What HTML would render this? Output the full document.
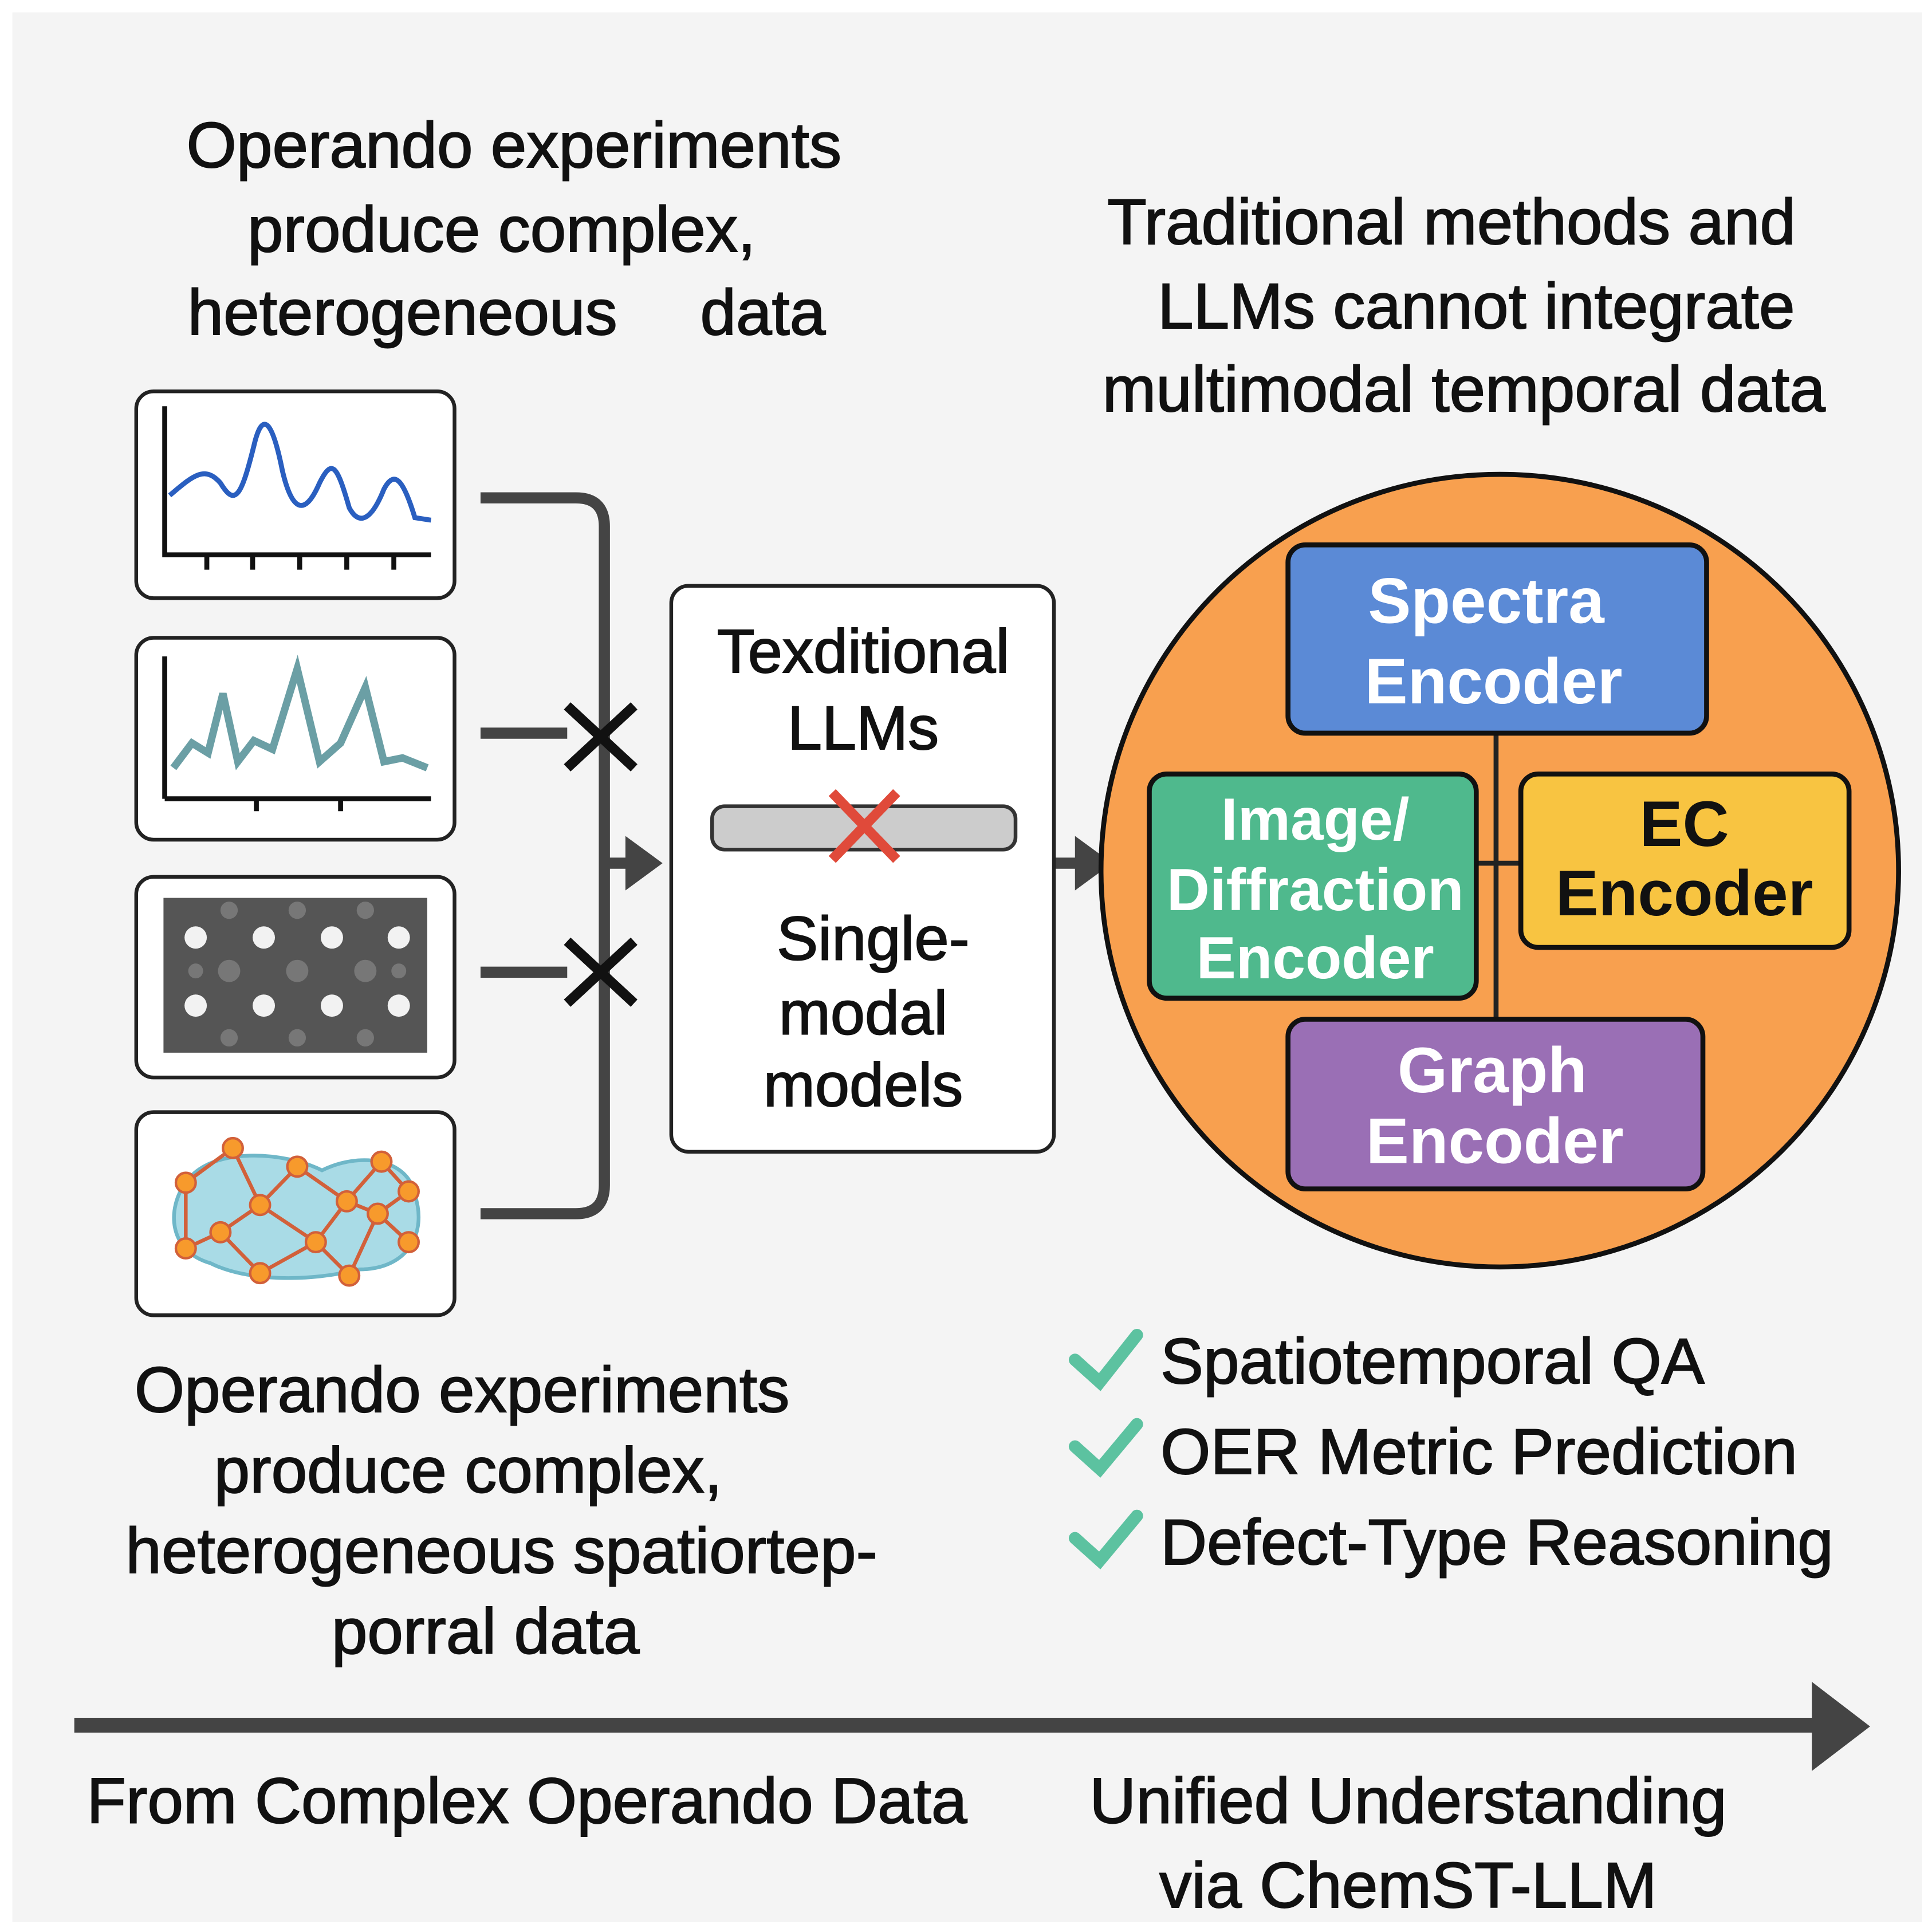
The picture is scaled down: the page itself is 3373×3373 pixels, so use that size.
<!DOCTYPE html>
<html><head><meta charset="utf-8"><style>
html,body{margin:0;padding:0;background:#fff}
svg{display:block}
text{font-family:"Liberation Sans",sans-serif}
.m{stroke:#111;stroke-width:0.9}
</style></head><body>
<svg width="3373" height="3373" viewBox="0 0 1560 1560" xmlns="http://www.w3.org/2000/svg">
<rect x="0" y="0" width="1560" height="1560" fill="#fff"/>
<rect x="10" y="10" width="1542" height="1542" fill="#f4f4f4"/>

<g font-size="52" fill="#111" text-anchor="middle" class="m">
<text x="415" y="135">Operando experiments</text>
<text x="405" y="203">produce complex,</text>
<text x="325" y="270">heterogeneous</text>
<text x="616" y="270">data</text>
<text x="1172" y="197">Traditional methods and</text>
<text x="1192" y="265">LLMs cannot integrate</text>
<text x="1182" y="332">multimodal temporal data</text>
</g>

<!-- panels -->
<g fill="#fff" stroke="#222" stroke-width="3">
<rect x="110" y="316" width="257" height="167" rx="14"/>
<rect x="110" y="515" width="257" height="163" rx="14"/>
<rect x="110" y="708" width="257" height="162" rx="14"/>
<rect x="110" y="898" width="257" height="164" rx="14"/>
</g>
<g stroke="#111" stroke-width="4" fill="none">
<path d="M133 328 V448 H348"/>
<path d="M167 448v12M204 448v12M242 448v12M280 448v12M318 448v12"/>
<path d="M133 645 V530 M133 645 H348 M207 645v10 M275 645v10"/>
</g>
<path d="M137 400 C155 385 165 375 178 390 C190 410 195 400 205 360 C212 330 220 340 228 380 C235 410 245 420 258 390 C268 370 272 375 282 410 C290 425 300 420 310 395 C318 380 325 385 335 418 L348 420" fill="none" stroke="#2a5fc0" stroke-width="4"/>
<path d="M140 620 L155 600 L168 608 L180 560 L192 615 L205 598 L220 605 L240 540 L258 615 L275 600 L295 555 L310 615 L325 612 L345 620" fill="none" stroke="#6b9fa5" stroke-width="6"/>
<rect x="132" y="725" width="213" height="125" fill="#555"/>
<g fill="#777"><circle cx="185" cy="784" r="9"/><circle cx="240" cy="784" r="9"/><circle cx="295" cy="784" r="9"/><circle cx="158" cy="784" r="6"/><circle cx="322" cy="784" r="6"/><circle cx="185" cy="735" r="7"/><circle cx="240" cy="735" r="7"/><circle cx="295" cy="735" r="7"/><circle cx="185" cy="838" r="7"/><circle cx="240" cy="838" r="7"/><circle cx="295" cy="838" r="7"/></g>
<g fill="#f2f2f2"><circle cx="158" cy="757" r="9"/><circle cx="213" cy="757" r="9"/><circle cx="268" cy="757" r="9"/><circle cx="322" cy="757" r="9"/><circle cx="158" cy="812" r="9"/><circle cx="213" cy="812" r="9"/><circle cx="268" cy="812" r="9"/><circle cx="322" cy="812" r="9"/></g>
<path d="M150 955 C170 925 230 930 260 945 C290 930 330 935 335 965 C345 995 330 1025 290 1025 C250 1035 200 1035 170 1020 C135 1010 135 975 150 955Z" fill="#a9dbe6" stroke="#6fb7c8" stroke-width="3"/>
<g stroke="#d2603a" stroke-width="3" fill="none">
<path d="M150 955 L188 927 L210 973 L240 942 L280 970 L308 938 L330 962 L305 980 L282 1030 L255 1003 L210 1028 L178 995 L150 1008 L150 955 M210 973 L178 995 M210 973 L255 1003 M280 970 L255 1003 M280 970 L305 980 M330 1003 L305 980 M240 942 L280 970"/>
</g>
<g fill="#f79a2c" stroke="#d2603a" stroke-width="2">
<circle cx="150" cy="955" r="8"/><circle cx="188" cy="927" r="8"/><circle cx="210" cy="973" r="8"/><circle cx="240" cy="942" r="8"/><circle cx="280" cy="970" r="8"/><circle cx="308" cy="938" r="8"/><circle cx="330" cy="962" r="8"/><circle cx="305" cy="980" r="8"/><circle cx="282" cy="1030" r="8"/><circle cx="255" cy="1003" r="8"/><circle cx="210" cy="1028" r="8"/><circle cx="178" cy="995" r="8"/><circle cx="150" cy="1008" r="8"/><circle cx="330" cy="1003" r="8"/>
</g>

<g stroke="#444" stroke-width="9" fill="none">
<path d="M388 402 H465 Q488 402 488 425 V957 Q488 980 465 980 H388"/>
<path d="M388 592 H458 M388 785 H458 M488 697 H510 M852 697 H872"/>
</g>
<path d="M505 675 L535 697 L505 719Z" fill="#444"/>
<path d="M868 675 L898 697 L868 719Z" fill="#444"/>
<g stroke="#111" stroke-width="8">
<path d="M458 570 L512 620 M512 570 L458 620"/>
<path d="M458 760 L512 810 M512 760 L458 810"/>
</g>

<rect x="542" y="473" width="309" height="457" rx="14" fill="#fff" stroke="#222" stroke-width="3"/>
<g font-size="50" fill="#111" text-anchor="middle" class="m">
<text x="697" y="543">Texditional</text>
<text x="697" y="605">LLMs</text>
<text x="705" y="775">Single-</text>
<text x="697" y="835">modal</text>
<text x="697" y="893">models</text>
</g>
<rect x="575" y="651" width="245" height="35" rx="10" fill="#ccc" stroke="#333" stroke-width="3"/>
<g stroke="#e04a3a" stroke-width="8"><path d="M672 640 L724 694 M724 640 L672 694"/></g>

<ellipse cx="1211" cy="703" rx="322" ry="320" fill="#f8a04f" stroke="#111" stroke-width="4"/>
<g stroke="#222" stroke-width="4"><path d="M1208 592 V823 M1192 697 H1228"/></g>
<rect x="1040" y="440" width="338" height="152" rx="14" fill="#5b8ad6" stroke="#111" stroke-width="4"/>
<rect x="928" y="625" width="264" height="181" rx="14" fill="#4fb98d" stroke="#111" stroke-width="4"/>
<rect x="1228" y="625" width="265" height="140" rx="14" fill="#f8c441" stroke="#111" stroke-width="4"/>
<rect x="1040" y="823" width="335" height="137" rx="14" fill="#9a6fb5" stroke="#111" stroke-width="4"/>
<g font-size="52" font-weight="bold" text-anchor="middle" fill="#fff">
<text x="1200" y="503">Spectra</text>
<text x="1206" y="568">Encoder</text>
<text x="1062" y="678" font-size="48">Image/</text>
<text x="1062" y="735" font-size="48">Diffraction</text>
<text x="1062" y="790" font-size="48">Encoder</text>
<text x="1205" y="882">Graph</text>
<text x="1207" y="939">Encoder</text>
<text x="1360" y="683" fill="#111">EC</text>
<text x="1360" y="739" fill="#111">Encoder</text>
</g>

<g stroke="#5cc2a0" stroke-width="10" fill="none" stroke-linecap="round">
<path d="M868 1098 L888 1116 L918 1078"/>
<path d="M868 1168 L888 1186 L918 1150"/>
<path d="M868 1242 L888 1260 L918 1224"/>
</g>
<g font-size="52" fill="#111" class="m">
<text x="937" y="1117">Spatiotemporal QA</text>
<text x="937" y="1190">OER Metric Prediction</text>
<text x="937" y="1263">Defect-Type Reasoning</text>
</g>
<g font-size="52" fill="#111" text-anchor="middle" class="m">
<text x="373" y="1140">Operando experiments</text>
<text x="378" y="1205">produce complex,</text>
<text x="405" y="1270">heterogeneous spatiortep-</text>
<text x="392" y="1335">porral data</text>
</g>

<path d="M60 1393 H1470" stroke="#444" stroke-width="12"/>
<path d="M1463 1358 L1510 1394 L1463 1430Z" fill="#444"/>
<g font-size="52" fill="#111" class="m">
<text x="70" y="1472">From Complex Operando Data</text>
<text x="1137" y="1472" text-anchor="middle">Unified Understanding</text>
<text x="1137" y="1540" text-anchor="middle">via ChemST-LLM</text>
</g>
</svg>
</body></html>
